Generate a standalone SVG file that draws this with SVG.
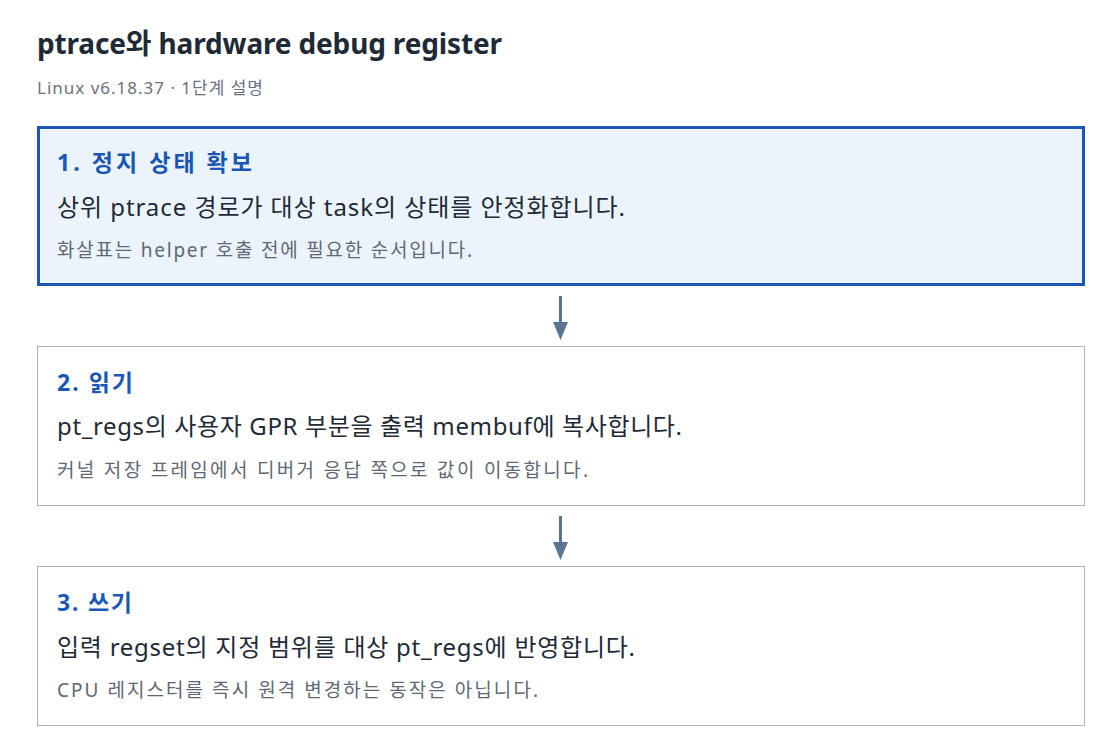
<svg xmlns="http://www.w3.org/2000/svg" width="1120" height="754" viewBox="0 0 1120 754">
<style>
text{font-family:"Noto Sans","Noto Sans CJK KR",sans-serif}
.title{font-size:28px;font-weight:700;fill:#1f2a37}
.sub{font-size:17px;fill:#6b7280}
.head{font-size:23px;font-weight:700;fill:#1a56b4}
.body{font-size:24px;fill:#1f2a37}
.note{font-size:19px;fill:#5f6875}
.box{fill:#ffffff;stroke:#a9b4c2;stroke-width:1}
.box.active{fill:#ebf3fd;stroke:#1a56b4;stroke-width:3}
.conn{stroke:#5a7593;stroke-width:3;fill:none}
</style>
<defs>
<marker id="arr" markerWidth="6" markerHeight="5" refX="5" refY="2.5" orient="auto" markerUnits="strokeWidth">
<path d="M0,0 L6,2.5 L0,5 Z" fill="#5a7593"/>
</marker>
</defs>
<rect width="1120" height="754" fill="#ffffff"/>
<text class="title" x="37" y="54" textLength="465" lengthAdjust="spacing">ptrace와 hardware debug register</text>
<text class="sub" x="37" y="94" textLength="226" lengthAdjust="spacing">Linux v6.18.37 · 1단계 설명</text>
<g id="connectors">
<line class="conn" x1="560.5" y1="296" x2="560.5" y2="337" marker-end="url(#arr)"/>
<line class="conn" x1="560.5" y1="516" x2="560.5" y2="557" marker-end="url(#arr)"/>
</g>
<g id="node1">
<rect class="box active" x="38.5" y="127.5" width="1045" height="157"/>
<text class="head" x="57" y="171" textLength="195" lengthAdjust="spacing">1. 정지 상태 확보</text>
<text class="body" x="57" y="216" textLength="568" lengthAdjust="spacing">상위 ptrace 경로가 대상 task의 상태를 안정화합니다.</text>
<text class="note" x="57" y="257" textLength="415" lengthAdjust="spacing">화살표는 helper 호출 전에 필요한 순서입니다.</text>
</g>
<g id="node2">
<rect class="box" x="37.5" y="346.5" width="1047" height="159"/>
<text class="head" x="57" y="391" textLength="76" lengthAdjust="spacing">2. 읽기</text>
<text class="body" x="57" y="435" textLength="625" lengthAdjust="spacing">pt_regs의 사용자 GPR 부분을 출력 membuf에 복사합니다.</text>
<text class="note" x="57" y="477" textLength="531" lengthAdjust="spacing">커널 저장 프레임에서 디버거 응답 쪽으로 값이 이동합니다.</text>
</g>
<g id="node3">
<rect class="box" x="37.5" y="566.5" width="1047" height="159"/>
<text class="head" x="57" y="611" textLength="75" lengthAdjust="spacing">3. 쓰기</text>
<text class="body" x="57" y="656" textLength="578" lengthAdjust="spacing">입력 regset의 지정 범위를 대상 pt_regs에 반영합니다.</text>
<text class="note" x="57" y="697" textLength="481" lengthAdjust="spacing">CPU 레지스터를 즉시 원격 변경하는 동작은 아닙니다.</text>
</g>
</svg>
